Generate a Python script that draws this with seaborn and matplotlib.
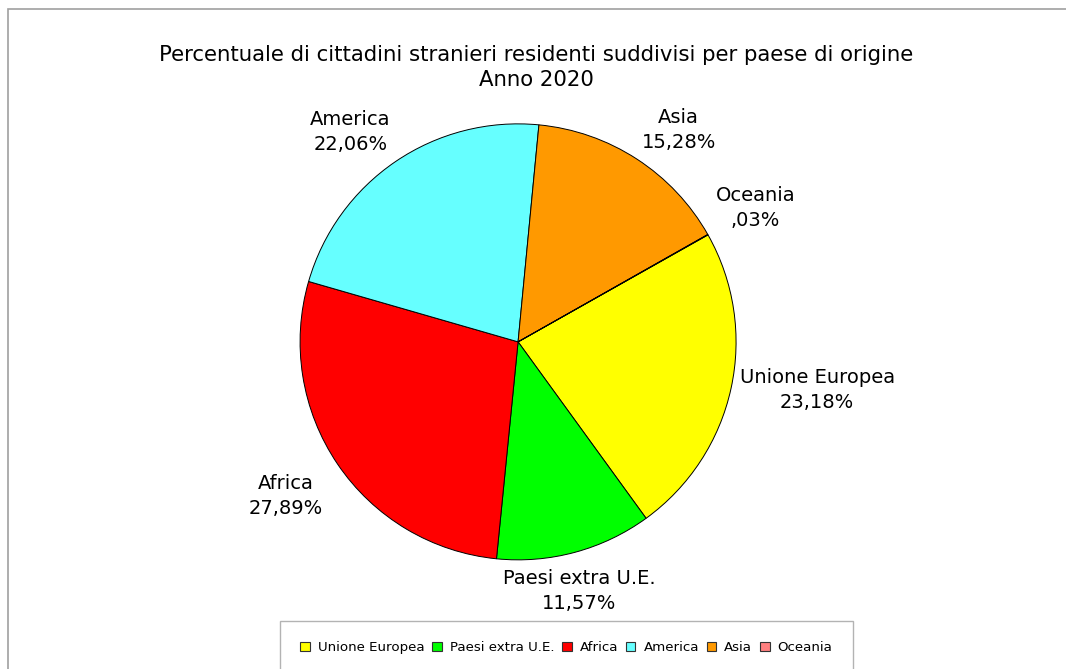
import numpy as np
import matplotlib
matplotlib.use("Agg")
import matplotlib.pyplot as plt
import matplotlib.patches as mpatches
import seaborn as sns

# dati
categorie = ["Unione Europea", "Paesi extra U.E.", "Africa", "America", "Asia", "Oceania"]
percentuali = [23.18, 11.57, 27.89, 22.06, 15.28, 0.03]
etichette = ["23,18%", "11,57%", "27,89%", "22,06%", "15,28%", ",03%"]
colori = ["#FFFF00", "#00FF00", "#FF0000", "#66FFFF", "#FF9900", "#FF8080"]

sns.set_style("white")
plt.rcParams["font.family"] = ["DejaVu Sans"]
plt.rcParams["text.color"] = "black"

fig = plt.figure(figsize=(10.66, 6.69), dpi=100)
ax = fig.add_axes([0.2815, 0.163, 0.409, 0.652])

wedges, _ = ax.pie(percentuali, colors=colori, startangle=29.4, counterclock=False,
                   wedgeprops=dict(edgecolor="black", linewidth=0.7))
ax.set_xlim(-1, 1)
ax.set_ylim(-1, 1)
ax.set_aspect("equal")

# etichette fuori dalla torta
for w, cat, lab in zip(wedges, categorie, etichette):
    ang = np.deg2rad((w.theta1 + w.theta2) / 2)
    c, s = np.cos(ang), np.sin(ang)
    ha = "left" if c > 0.5 else ("right" if c < -0.5 else "center")
    va = "bottom" if s > 0.3 else ("top" if s < -0.3 else "center")
    d = 1.08 if va == "top" else 1.04
    ax.text(d * c, d * s, f"{cat}\n{lab}", ha=ha, va=va, multialignment="center",
            fontsize=14, linespacing=1.4, clip_on=False, color="black")

fig.text(0.503, 0.899, "Percentuale di cittadini stranieri residenti suddivisi per paese di origine\nAnno 2020",
         ha="center", va="center", fontsize=15.3, linespacing=1.35, color="black")

# cornice esterna
fig.patches.append(mpatches.Rectangle((0.0075, -0.1), 1.1, 1.0865, transform=fig.transFigure,
                                      fill=False, edgecolor="#A0A0A0", linewidth=1.2))

handles = [mpatches.Patch(facecolor=col, edgecolor="#333333", linewidth=0.8) for col in colori]
leg = fig.legend(handles, categorie, loc="upper center", bbox_to_anchor=(0.5314, 0.0717),
                 ncol=6, fontsize=9.6, frameon=True, fancybox=False, edgecolor="#A0A0A0",
                 borderpad=1.5, borderaxespad=0, handlelength=0.7, handleheight=0.7,
                 handletextpad=0.6, columnspacing=0.6)
leg.get_frame().set_linewidth(1.0)
for t in leg.get_texts():
    t.set_color("black")

fig.savefig("out.png", dpi=100)
